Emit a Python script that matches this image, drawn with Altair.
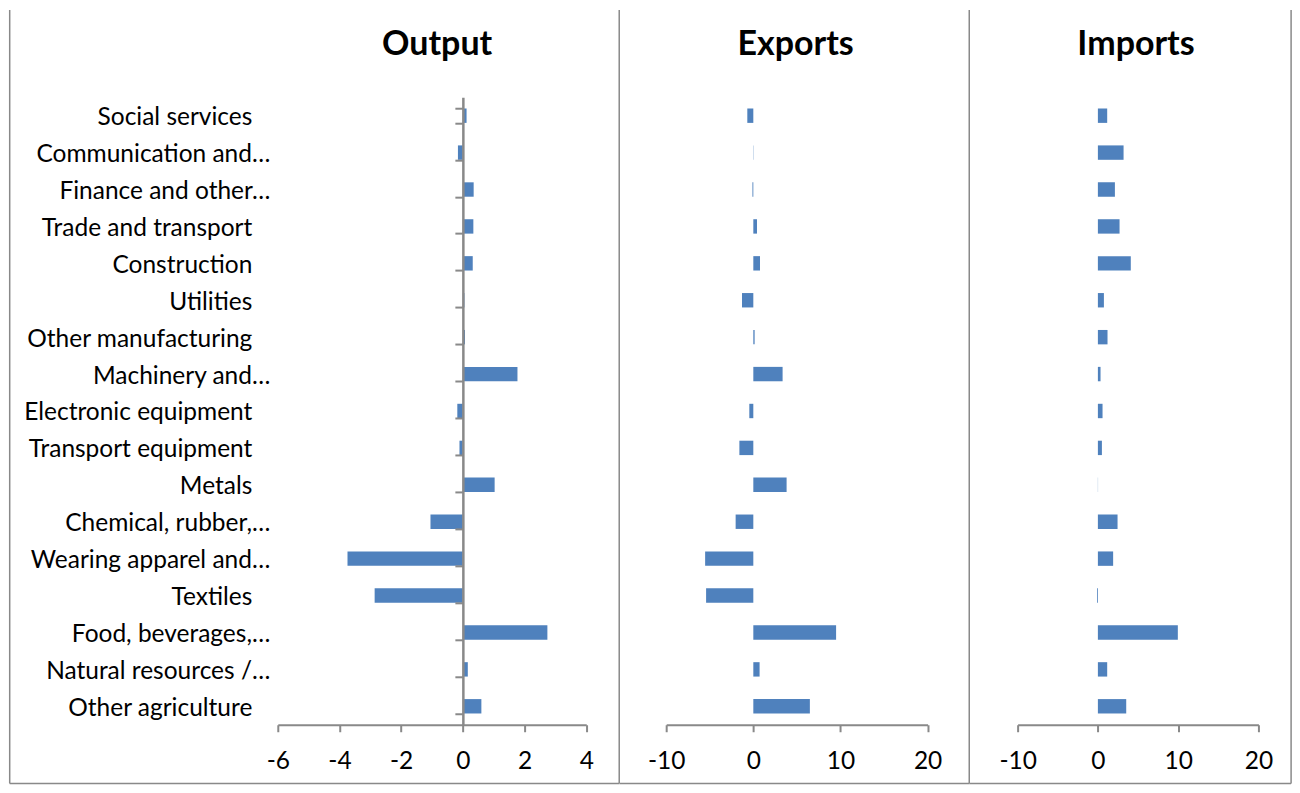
import altair as alt
import pandas as pd

categories = [
    "Social services", "Communication and…", "Finance and other…",
    "Trade and transport", "Construction", "Utilities", "Other manufacturing",
    "Machinery and…", "Electronic equipment", "Transport equipment", "Metals",
    "Chemical, rubber,…", "Wearing apparel and…", "Textiles",
    "Food, beverages,…", "Natural resources /…", "Other agriculture",
]
output_vals = [0.12, -0.16, 0.35, 0.34, 0.32, 0.05, 0.07, 1.77, -0.18, -0.11,
               1.03, -1.05, -3.74, -2.86, 2.74, 0.16, 0.60]
export_vals = [-0.69, 0.03, -0.10, 0.42, 0.77, -1.30, 0.15, 3.36, -0.46, -1.60,
               3.82, -2.03, -5.53, -5.42, 9.50, 0.72, 6.49]
import_vals = [1.16, 3.20, 2.12, 2.70, 4.10, 0.75, 1.20, 0.33, 0.58, 0.50,
               0.02, 2.45, 1.90, -0.10, 9.96, 1.16, 3.53]
panel_titles = ["Output", "Exports", "Imports"]
output_domain = [-6, 4]
output_ticks = [-6, -4, -2, 0, 2, 4]
trade_domain = [-10, 20]
trade_ticks = [-10, 0, 10, 20]

FONT = "Lato"
BLUE = "#4f81bd"
GRAY = "#898989"
PLOT_H = 628
SPACING = 79.7
LABEL_SIZE = 24.5
TITLE_SIZE = 34


def rule(x1, x2, y1, y2):
    return alt.Chart(pd.DataFrame({"k": [0]})).mark_rule(
        color=GRAY, strokeWidth=1.5
    ).encode(x=alt.value(x1), x2=alt.value(x2), y=alt.value(y1), y2=alt.value(y2))


def panel(title, values, domain, ticks, width, range_w, show_yaxis, left_b, right_b,
          title_x, with_labels=False, draw_left=False):
    df = pd.DataFrame({"cat": categories, "val": values})
    yscale = alt.Scale(paddingInner=0.61, paddingOuter=0.305)
    zero_px = (0 - domain[0]) / (domain[1] - domain[0]) * range_w
    if show_yaxis:
        yaxis = alt.Axis(labels=False, title=None, grid=False, domainColor=GRAY,
                         domainWidth=2.5, tickColor=GRAY, tickWidth=2, tickSize=8,
                         tickBand="extent", offset=-zero_px, zindex=1)
    else:
        yaxis = None
    xaxis = alt.Axis(values=ticks, title=None, grid=False, domainColor=GRAY,
                     domainWidth=2, tickColor=GRAY, tickWidth=2, tickSize=7,
                     labelFont=FONT, labelFontSize=LABEL_SIZE, labelColor="black",
                     labelPadding=37, labelBaseline="alphabetic", labelFlush=False,
                     labelOverlap=False, labelExpr="datum.value + ''")
    bars = alt.Chart(df).mark_bar(color=BLUE).encode(
        y=alt.Y("cat:N", sort=categories, scale=yscale, axis=yaxis),
        x=alt.X("val:Q", scale=alt.Scale(domain=domain, range=[0, range_w],
                                         nice=False, zero=False), axis=xaxis),
    )
    layers = [bars]
    if with_labels:
        base = alt.Chart(df).transform_calculate(
            trunc="indexof(datum.cat, '…') >= 0"
        )
        for flt, xpos in (("datum.trunc", -7.5), ("!datum.trunc", -25.5)):
            layers.append(
                base.transform_filter(flt).mark_text(
                    align="right", baseline="alphabetic", dy=9.5, font=FONT,
                    fontSize=LABEL_SIZE, color="black"
                ).encode(
                    y=alt.Y("cat:N", sort=categories, scale=yscale),
                    x=alt.value(xpos), text="cat:N",
                )
            )
    title_layer = alt.Chart(pd.DataFrame({"t": [title]})).mark_text(
        font=FONT, fontSize=TITLE_SIZE, fontWeight="bold", align="center",
        baseline="alphabetic", color="black"
    ).encode(x=alt.value(title_x), y=alt.value(-42), text="t:N")
    layers.append(title_layer)
    top = -87.3
    bottom = 686.7
    if draw_left:
        layers.append(rule(left_b, left_b, top, bottom))
    layers.append(rule(right_b, right_b, top, bottom))
    layers.append(rule(left_b, right_b, bottom, bottom))
    return alt.layer(*layers).properties(width=width, height=PLOT_H)


out_chart = panel(panel_titles[0], output_vals, output_domain, output_ticks,
                  308.7, 308.7, True, -268.3, 341.7, 159.5,
                  with_labels=True, draw_left=True)
exp_chart = panel(panel_titles[1], export_vals, trade_domain, trade_ticks,
                  271.6, 261.6, False, -46.7, 303.3, 129.5)
imp_chart = panel(panel_titles[2], import_vals, trade_domain, trade_ticks,
                  241, 241, False, -48.3, 273.7, 118.5)

chart = alt.hconcat(out_chart, exp_chart, imp_chart, spacing=SPACING,
                    bounds="flush").properties(
    padding=0, background="white").configure_view(stroke=None)

chart.save("out.html", embed_options={"renderer": "svg", "actions": False})
